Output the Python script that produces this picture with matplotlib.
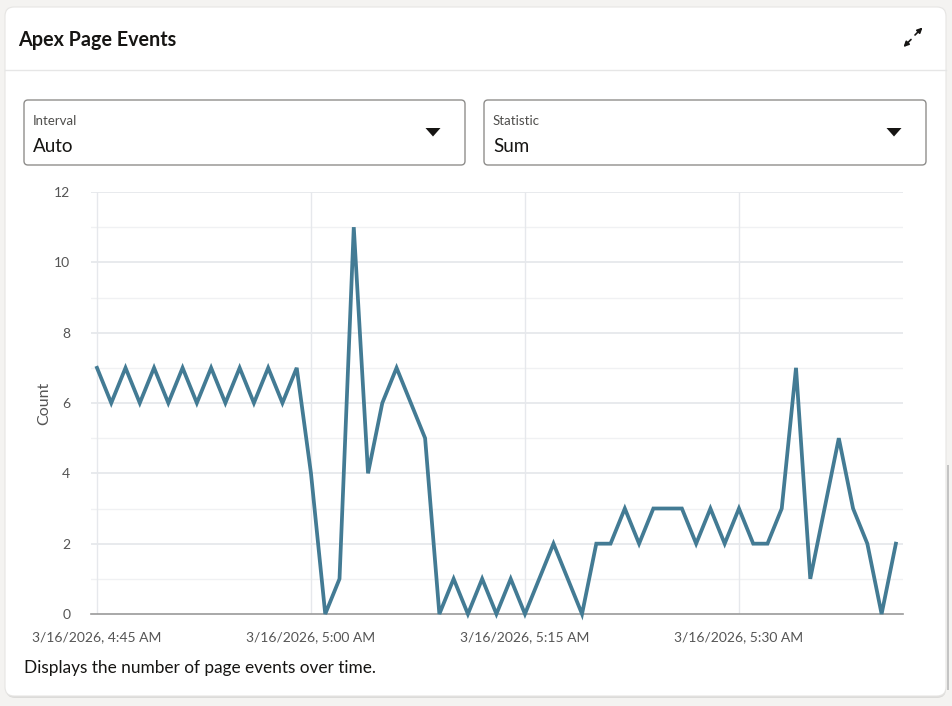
import matplotlib
matplotlib.use("Agg")
import matplotlib.pyplot as plt
import matplotlib.dates as mdates
from matplotlib.patches import FancyBboxPatch, Polygon, Rectangle
import pandas as pd

# ---- data ----
start_time = "2026-03-16 04:45"
counts = [7, 6, 7, 6, 7, 6, 7, 6, 7, 6, 7, 6, 7, 6, 7,
          4, 0, 1, 11, 4, 6, 7, 6, 5,
          0, 1, 0, 1, 0, 1, 0, 1, 2, 1, 0,
          2, 2, 3, 2, 3, 3, 3, 2, 3, 2, 3, 2, 2, 3,
          7, 1, 3, 5, 3, 2, 0, 2]
tick_times = ["2026-03-16 04:45", "2026-03-16 05:00", "2026-03-16 05:15", "2026-03-16 05:30"]
tick_labels = ["3/16/2026, 4:45 AM", "3/16/2026, 5:00 AM", "3/16/2026, 5:15 AM", "3/16/2026, 5:30 AM"]
y_ticks = [0, 2, 4, 6, 8, 10, 12]
title = "Apex Page Events"
interval_label, interval_value = "Interval", "Auto"
stat_label, stat_value = "Statistic", "Sum"
footer = "Displays the number of page events over time."
ylabel = "Count"

times = pd.date_range(start_time, periods=len(counts), freq="1min")

W, H = 952, 706
plt.rcParams['font.family'] = ['Lato', 'DejaVu Sans']
fig = plt.figure(figsize=(W / 100, H / 100), dpi=100)
fig.patch.set_facecolor("#f4f3f1")

# background overlay axes in pixel coords
bg = fig.add_axes([0, 0, 1, 1], zorder=0)
bg.set_xlim(0, W)
bg.set_ylim(H, 0)
bg.axis("off")

# card shadow + card
bg.add_patch(FancyBboxPatch((6, 9), 940, 689, boxstyle="round,pad=0,rounding_size=9",
                            facecolor="#dcdbd9", edgecolor="none"))
bg.add_patch(FancyBboxPatch((5, 7), 941, 689, boxstyle="round,pad=0,rounding_size=9",
                            facecolor="white", edgecolor="#e6e5e3", linewidth=0.8))
# header separator
bg.plot([5, 946], [69.5, 69.5], color="#e6e6e6", linewidth=1)
bg.text(18, 40, title, fontsize=14.2, fontweight="bold", color="#161513",
        ha="left", va="center")

# expand icon (two separate diagonal arrows)
ic = "#161513"
bg.annotate("", xy=(922.5, 27.5), xytext=(915, 35),
            arrowprops=dict(arrowstyle="-|>,head_length=0.3,head_width=0.15", color=ic, lw=1.2,
                            shrinkA=0, shrinkB=0))
bg.annotate("", xy=(903.5, 47), xytext=(911, 39.5),
            arrowprops=dict(arrowstyle="-|>,head_length=0.3,head_width=0.15", color=ic, lw=1.2,
                            shrinkA=0, shrinkB=0))

# dropdowns
for (x0, x1, lab, val) in [(24, 465, interval_label, interval_value),
                           (484, 926, stat_label, stat_value)]:
    bg.add_patch(FancyBboxPatch((x0, 100), x1 - x0, 65, boxstyle="round,pad=0,rounding_size=4",
                                facecolor="white", edgecolor="#8f8e8c", linewidth=1.0))
    bg.text(x0 + 9, 121, lab, fontsize=9.5, color="#4f4e4c", ha="left", va="center")
    bg.text(x0 + 9, 146, val, fontsize=13.5, color="#161513", ha="left", va="center")
    ax_c = x1 - 32
    bg.add_patch(Polygon([[ax_c - 7.5, 128], [ax_c + 7.5, 128], [ax_c, 136.5]],
                         closed=True, facecolor="#161513", edgecolor="none"))

bg.text(24, 668, footer, fontsize=12.4, color="#161513", ha="left", va="center")
bg.text(44, 403, ylabel, fontsize=11.5, color="#555555", rotation=90, ha="center", va="center")

# scrollbar hint
bg.add_patch(Rectangle((946.5, 465), 2.5, 225, facecolor="#c4c4c4", edgecolor="none"))

# ---- chart ----
L, R, T, B = 91, 903, 192, 614
ax = fig.add_axes([L / W, (H - B) / H, (R - L) / W, (B - T) / H], zorder=1)
ax.patch.set_alpha(0)

x0_dt = mdates.date2num(pd.Timestamp(start_time))
step = 1 / (24 * 60)
ax.set_xlim(x0_dt - 0.42 * step, x0_dt + 56.5 * step)
ax.set_ylim(0, 12)

for y in range(0, 13):
    if y == 0:
        continue
    ax.axhline(y, color="#e4e6ea" if y % 2 == 0 else "#f0f1f3",
               linewidth=1.2 if y % 2 == 0 else 1.0, zorder=0)
for t in tick_times:
    ax.axvline(mdates.date2num(pd.Timestamp(t)), color="#e6e8ec", linewidth=1.0, zorder=0)

ax.plot(times, counts, color="#437b94", linewidth=2.7, solid_joinstyle="miter", zorder=3,
        clip_on=False)

for s in ["top", "right", "left"]:
    ax.spines[s].set_visible(False)
ax.spines["bottom"].set_color("#9a9a9a")
ax.spines["bottom"].set_linewidth(1.2)

ax.set_yticks(y_ticks)
ax.set_yticklabels([str(v) for v in y_ticks])
ax.set_xticks([mdates.date2num(pd.Timestamp(t)) for t in tick_times])
ax.set_xticklabels(tick_labels)
ax.tick_params(axis="both", length=0, labelsize=10, labelcolor="#555555")
ax.tick_params(axis="y", pad=15)
ax.tick_params(axis="x", pad=12)

fig.savefig("out.png", dpi=100, facecolor=fig.get_facecolor())
